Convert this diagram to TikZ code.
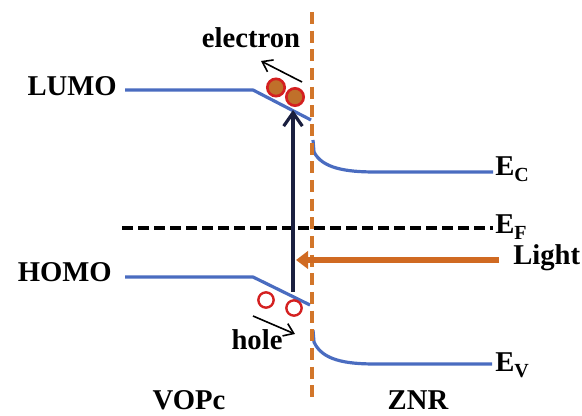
\documentclass[tikz,border=0pt]{standalone}
\usepackage{fontspec}
\setmainfont{Liberation Serif}
\usetikzlibrary{arrows.meta}
\definecolor{bandblue}{HTML}{4A6CC0}
\definecolor{junc}{HTML}{D2762A}
\definecolor{lightor}{HTML}{D06A22}
\definecolor{navy}{HTML}{1A1F3F}
\definecolor{efill}{HTML}{C0702A}
\definecolor{ering}{HTML}{D42020}
\newcommand{\esub}[1]{E\raisebox{-0.18em}{\fontsize{15}{15}\selectfont #1}}
\begin{document}
\begin{tikzpicture}[x=0.75pt,y=-0.75pt,
  lbl/.style={font=\fontsize{21.5}{24}\selectfont\bfseries, inner sep=0pt},
  band/.style={bandblue, line width=2.4pt, line join=round},
  electronball/.style={circle, draw=ering, fill=efill, line width=2pt, minimum size=13pt, inner sep=0pt},
  holeball/.style={circle, draw=ering, fill=white, line width=1.8pt, minimum size=11.5pt, inner sep=0pt},
  thinarrow/.style={black, line width=1.2pt, -{Straight Barb[length=7pt,width=10pt,line width=1.2pt]}}]
\useasboundingbox (0,0) rectangle (582,416);
% Fermi level
\coordinate (ef0) at (122,228);
\coordinate (ef1) at (493,228);
\draw[black, line width=2.6pt, dash pattern=on 8pt off 4pt] (ef0) -- (ef1);
% bands, VOPc side
\coordinate (l0) at (125,90);
\coordinate (l1) at (253,90);
\coordinate (l2) at (311,120);
\draw[band] (l0) -- (l1) -- (l2);
\coordinate (h0) at (125,277);
\coordinate (h1) at (253,277);
\coordinate (h2) at (310,305);
\draw[band] (h0) -- (h1) -- (h2);
% bands, ZNR side
\coordinate (c0) at (313,140);
\coordinate (c1) at (493,172);
\draw[band] (c0) -- (314,152) .. controls (322,168) and (345,172) .. (375,172) -- (c1);
\coordinate (v0) at (313,330);
\coordinate (v1) at (492,364);
\draw[band] (v0) -- (314,342) .. controls (322,360) and (345,364) .. (375,364) -- (v1);
% excitation arrow
\coordinate (ex0) at (293,292);
\coordinate (ex1) at (293,110);
\draw[navy, line width=2.4pt, -{Straight Barb[length=10pt,width=14pt,line width=2.4pt]}] (ex0) -- (ex1);
% junction
\coordinate (j0) at (312,12);
\coordinate (j1) at (312,402);
\draw[junc, line width=3pt, dash pattern=on 9pt off 5pt] (j0) -- (j1);
% light
\coordinate (lt0) at (499,260);
\coordinate (lt1) at (296,260);
\draw[lightor, line width=5pt, -{Triangle[length=9pt,width=13pt]}] (lt0) -- (lt1);
% carriers
\node[electronball] (e1) at (276,87.5) {};
\node[electronball] (e2) at (295,97) {};
\node[holeball] (p1) at (266,300) {};
\node[holeball] (p2) at (294,308) {};
\coordinate (ea0) at (302,82);
\coordinate (ea1) at (261,61);
\draw[thinarrow] (ea0) -- (ea1);
\coordinate (ha0) at (253,316);
\coordinate (ha1) at (295,334);
\draw[thinarrow] (ha0) -- (ha1);
% labels
\node[lbl, anchor=base] (telec) at (251,48) {electron};
\node[lbl, anchor=base] (thole) at (257,350) {hole};
\node[lbl, anchor=base east] (tlumo) at (117,96) {LUMO};
\node[lbl, anchor=base east] (thomo) at (112,282) {HOMO};
\node[lbl, anchor=base west] (tec) at (495,176) {\esub{C}};
\node[lbl, anchor=base west] (tef) at (495,234) {\esub{F}};
\node[lbl, anchor=base west] (tev) at (495,372) {\esub{V}};
\node[lbl, anchor=base west] (tlight) at (513,265) {Light};
\node[lbl, anchor=base] (tvopc) at (189,410) {VOPc};
\node[lbl, anchor=base] (tznr) at (418,410) {ZNR};
\end{tikzpicture}
\end{document}
